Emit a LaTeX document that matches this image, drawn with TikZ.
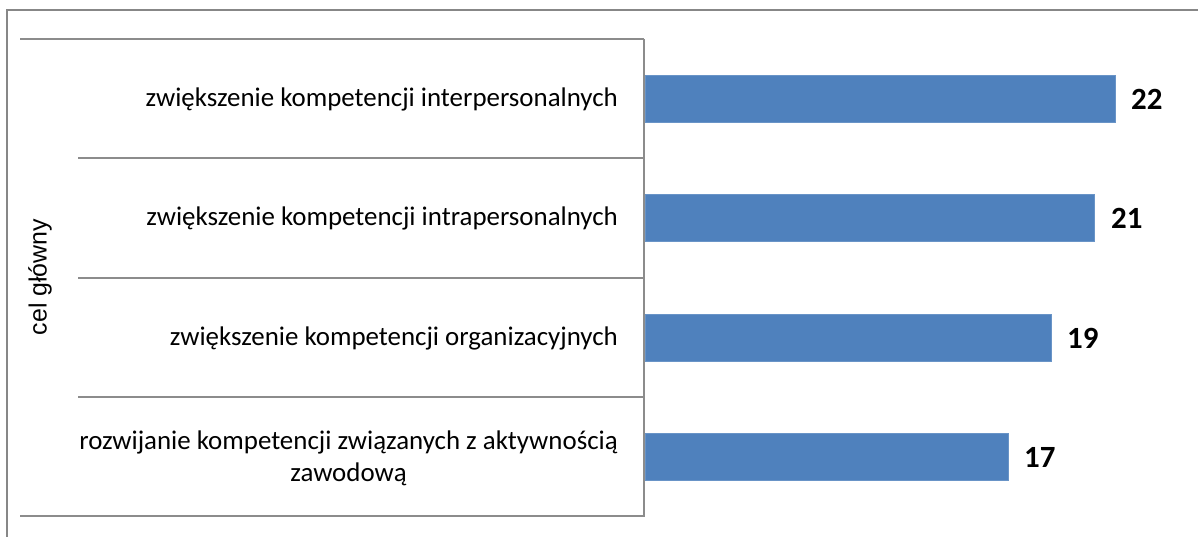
\documentclass[tikz,border=0pt]{standalone}
\usepackage{fontspec}
\setmainfont{Carlito}
\newfontfamily\arialf{Liberation Sans}
\definecolor{barblue}{HTML}{4F81BD}
\definecolor{framegray}{HTML}{878787}
\definecolor{linegray}{HTML}{8C8C8C}
\begin{document}
\begin{tikzpicture}[x=1bp,y=-1bp,
  frame/.style={draw=framegray,line width=2.2bp},
  gridline/.style={draw=linegray,line width=1.6bp},
  bar/.style={fill=barblue,draw=barblue!85!white,line width=0.6bp},
  catlabel/.style={anchor=east,align=center,inner sep=0pt,font=\fontsize{27}{32}\selectfont},
  vallabel/.style={anchor=west,inner sep=0pt,font=\fontsize{31}{36}\selectfont\bfseries},
  axislabel/.style={rotate=90,inner sep=0pt,font=\arialf\fontsize{25}{30}\selectfont}]
\useasboundingbox (0,0) rectangle (1198,537);
% outer frame (only top and left visible)
\draw[frame] (7,537) -- (7,10) -- (1198,10);
% category grid
\draw[gridline] (20,39) -- (644,39);
\draw[gridline] (20,516) -- (644,516);
\foreach \yy in {158,278,397} \draw[gridline] (78,\yy) -- (644,\yy);
\draw[gridline] (644,39) -- (644,517);
% axis title
\node[axislabel] (axis) at (40,277) {cel główny};
% bars
\path[bar] (645,75) rectangle (1115,122);
\path[bar] (645,194) rectangle (1094,241);
\path[bar] (645,314) rectangle (1051,361);
\path[bar] (645,433) rectangle (1008,480);
% value labels
\node[vallabel] (v1) at (1131,99) {22};
\node[vallabel] (v2) at (1111,218) {21};
\node[vallabel] (v3) at (1067,338) {19};
\node[vallabel] (v4) at (1024,457) {17};
% category labels
\node[catlabel] (c1) at (618,99) {zwiększenie kompetencji interpersonalnych};
\node[catlabel] (c2) at (618,218) {zwiększenie kompetencji intrapersonalnych};
\node[catlabel] (c3) at (618,338) {zwiększenie kompetencji organizacyjnych};
\node[catlabel] (c4) at (618,458) {rozwijanie kompetencji związanych z aktywnością\\zawodową};
\end{tikzpicture}
\end{document}
